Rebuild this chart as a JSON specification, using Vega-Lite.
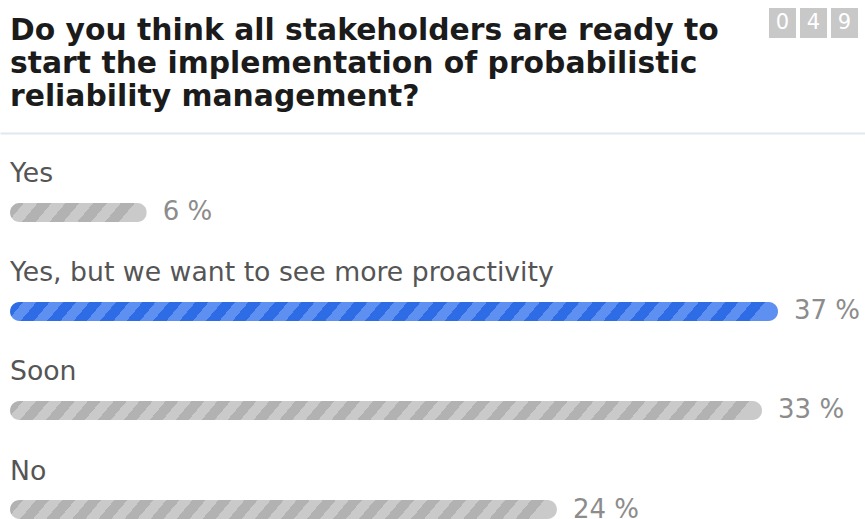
{
"$schema":"https://vega.github.io/schema/vega-lite/v6.json",
"background":"white",
"padding":{"left":0,"top":8,"right":0,"bottom":0},
"config":{"view":{"stroke":null},"font":"DejaVu Sans"},
"spacing":21,
"vconcat":[
{"spacing":0,"hconcat":[
 {"width":769,"height":99,
  "data":{"values":[{"line":1,"text":"Do you think all stakeholders are ready to"},{"line":2,"text":"start the implementation of probabilistic"},{"line":3,"text":"reliability management?"}]},
  "mark":{"type":"text","align":"left","baseline":"alphabetic","dx":10,"dy":15.5,"font":"DejaVu Sans","fontSize":29.8,"fontWeight":"bold","color":"#1b1b1b"},
  "encoding":{
   "x":{"datum":0,"type":"quantitative","scale":{"domain":[0,1]},"axis":null},
   "y":{"field":"line","type":"ordinal","scale":{"type":"band","paddingInner":0,"paddingOuter":0},"axis":null},
   "text":{"field":"text"}}},
 {"width":89,"height":30,
  "data":{"values":[{"pos":1,"digit":"0"},{"pos":2,"digit":"4"},{"pos":3,"digit":"9"}]},
  "layer":[
   {"mark":{"type":"bar","color":"#c8c8c8"},
    "encoding":{"x":{"field":"pos","type":"ordinal","scale":{"paddingInner":0.129,"paddingOuter":0},"axis":null}}},
   {"mark":{"type":"text","color":"white","fontSize":21,"font":"DejaVu Sans","baseline":"middle"},
    "encoding":{"x":{"field":"pos","type":"ordinal","axis":null},"text":{"field":"digit"}}}
  ]}
]},
{"width":865,"height":386,
 "data":{"values":[
  {"option":"Yes","pct":6,"label":"6 %"},
  {"option":"Yes, but we want to see more proactivity","pct":37,"label":"37 %"},
  {"option":"Soon","pct":33,"label":"33 %"},
  {"option":"No","pct":24,"label":"24 %"}]},
 "encoding":{"y":{"field":"option","type":"nominal","sort":null,"scale":{"type":"band","domain":["Yes","Yes, but we want to see more proactivity","Soon","No"],"paddingInner":0.8081,"paddingOuter":0.3535,"align":1},"axis":null}},
 "layer":[
  {"transform":[{"filter":{"field":"option","equal":"Yes"}}],
   "mark":{"type":"bar","cornerRadius":9.5,"fill":{"gradient":"linear","x1":0,"y1":0,"x2":1,"y2":0.117,"stops":[
    {"offset":0,"color":"#b2b2b2"},{"offset":0.1,"color":"#b2b2b2"},{"offset":0.1,"color":"#cacaca"},{"offset":0.2,"color":"#cacaca"},
    {"offset":0.2,"color":"#b2b2b2"},{"offset":0.3,"color":"#b2b2b2"},{"offset":0.3,"color":"#cacaca"},{"offset":0.4,"color":"#cacaca"},
    {"offset":0.4,"color":"#b2b2b2"},{"offset":0.5,"color":"#b2b2b2"},{"offset":0.5,"color":"#cacaca"},{"offset":0.6,"color":"#cacaca"},
    {"offset":0.6,"color":"#b2b2b2"},{"offset":0.7,"color":"#b2b2b2"},{"offset":0.7,"color":"#cacaca"},{"offset":0.8,"color":"#cacaca"},
    {"offset":0.8,"color":"#b2b2b2"},{"offset":0.9,"color":"#b2b2b2"},{"offset":0.9,"color":"#cacaca"},{"offset":1,"color":"#cacaca"}]}},
   "encoding":{"x":{"field":"pct","type":"quantitative","scale":{"domain":[-0.44,33.7,37.5,40],"range":[0,778,778,865],"zero":false,"nice":false},"axis":{"orient":"top","domainColor":"#e2e7ec","domainWidth":2,"ticks":false,"labels":false,"grid":false,"title":null}}}},
  {"transform":[{"filter":{"field":"option","equal":"Yes, but we want to see more proactivity"}}],
   "mark":{"type":"bar","cornerRadius":9.5,"fill":{"gradient":"linear","x1":0,"y1":0,"x2":1,"y2":0.0208,"stops":[
    {"offset":0,"color":"#2e6ce6"},
    {"offset":0.01724,"color":"#2e6ce6"},{"offset":0.01724,"color":"#5d90f0"},
    {"offset":0.03448,"color":"#5d90f0"},{"offset":0.03448,"color":"#2e6ce6"},
    {"offset":0.05172,"color":"#2e6ce6"},{"offset":0.05172,"color":"#5d90f0"},
    {"offset":0.06897,"color":"#5d90f0"},{"offset":0.06897,"color":"#2e6ce6"},
    {"offset":0.08621,"color":"#2e6ce6"},{"offset":0.08621,"color":"#5d90f0"},
    {"offset":0.10345,"color":"#5d90f0"},{"offset":0.10345,"color":"#2e6ce6"},
    {"offset":0.12069,"color":"#2e6ce6"},{"offset":0.12069,"color":"#5d90f0"},
    {"offset":0.13793,"color":"#5d90f0"},{"offset":0.13793,"color":"#2e6ce6"},
    {"offset":0.15517,"color":"#2e6ce6"},{"offset":0.15517,"color":"#5d90f0"},
    {"offset":0.17241,"color":"#5d90f0"},{"offset":0.17241,"color":"#2e6ce6"},
    {"offset":0.18966,"color":"#2e6ce6"},{"offset":0.18966,"color":"#5d90f0"},
    {"offset":0.2069,"color":"#5d90f0"},{"offset":0.2069,"color":"#2e6ce6"},
    {"offset":0.22414,"color":"#2e6ce6"},{"offset":0.22414,"color":"#5d90f0"},
    {"offset":0.24138,"color":"#5d90f0"},{"offset":0.24138,"color":"#2e6ce6"},
    {"offset":0.25862,"color":"#2e6ce6"},{"offset":0.25862,"color":"#5d90f0"},
    {"offset":0.27586,"color":"#5d90f0"},{"offset":0.27586,"color":"#2e6ce6"},
    {"offset":0.2931,"color":"#2e6ce6"},{"offset":0.2931,"color":"#5d90f0"},
    {"offset":0.31034,"color":"#5d90f0"},{"offset":0.31034,"color":"#2e6ce6"},
    {"offset":0.32759,"color":"#2e6ce6"},{"offset":0.32759,"color":"#5d90f0"},
    {"offset":0.34483,"color":"#5d90f0"},{"offset":0.34483,"color":"#2e6ce6"},
    {"offset":0.36207,"color":"#2e6ce6"},{"offset":0.36207,"color":"#5d90f0"},
    {"offset":0.37931,"color":"#5d90f0"},{"offset":0.37931,"color":"#2e6ce6"},
    {"offset":0.39655,"color":"#2e6ce6"},{"offset":0.39655,"color":"#5d90f0"},
    {"offset":0.41379,"color":"#5d90f0"},{"offset":0.41379,"color":"#2e6ce6"},
    {"offset":0.43103,"color":"#2e6ce6"},{"offset":0.43103,"color":"#5d90f0"},
    {"offset":0.44828,"color":"#5d90f0"},{"offset":0.44828,"color":"#2e6ce6"},
    {"offset":0.46552,"color":"#2e6ce6"},{"offset":0.46552,"color":"#5d90f0"},
    {"offset":0.48276,"color":"#5d90f0"},{"offset":0.48276,"color":"#2e6ce6"},
    {"offset":0.5,"color":"#2e6ce6"},{"offset":0.5,"color":"#5d90f0"},
    {"offset":0.51724,"color":"#5d90f0"},{"offset":0.51724,"color":"#2e6ce6"},
    {"offset":0.53448,"color":"#2e6ce6"},{"offset":0.53448,"color":"#5d90f0"},
    {"offset":0.55172,"color":"#5d90f0"},{"offset":0.55172,"color":"#2e6ce6"},
    {"offset":0.56897,"color":"#2e6ce6"},{"offset":0.56897,"color":"#5d90f0"},
    {"offset":0.58621,"color":"#5d90f0"},{"offset":0.58621,"color":"#2e6ce6"},
    {"offset":0.60345,"color":"#2e6ce6"},{"offset":0.60345,"color":"#5d90f0"},
    {"offset":0.62069,"color":"#5d90f0"},{"offset":0.62069,"color":"#2e6ce6"},
    {"offset":0.63793,"color":"#2e6ce6"},{"offset":0.63793,"color":"#5d90f0"},
    {"offset":0.65517,"color":"#5d90f0"},{"offset":0.65517,"color":"#2e6ce6"},
    {"offset":0.67241,"color":"#2e6ce6"},{"offset":0.67241,"color":"#5d90f0"},
    {"offset":0.68966,"color":"#5d90f0"},{"offset":0.68966,"color":"#2e6ce6"},
    {"offset":0.7069,"color":"#2e6ce6"},{"offset":0.7069,"color":"#5d90f0"},
    {"offset":0.72414,"color":"#5d90f0"},{"offset":0.72414,"color":"#2e6ce6"},
    {"offset":0.74138,"color":"#2e6ce6"},{"offset":0.74138,"color":"#5d90f0"},
    {"offset":0.75862,"color":"#5d90f0"},{"offset":0.75862,"color":"#2e6ce6"},
    {"offset":0.77586,"color":"#2e6ce6"},{"offset":0.77586,"color":"#5d90f0"},
    {"offset":0.7931,"color":"#5d90f0"},{"offset":0.7931,"color":"#2e6ce6"},
    {"offset":0.81034,"color":"#2e6ce6"},{"offset":0.81034,"color":"#5d90f0"},
    {"offset":0.82759,"color":"#5d90f0"},{"offset":0.82759,"color":"#2e6ce6"},
    {"offset":0.84483,"color":"#2e6ce6"},{"offset":0.84483,"color":"#5d90f0"},
    {"offset":0.86207,"color":"#5d90f0"},{"offset":0.86207,"color":"#2e6ce6"},
    {"offset":0.87931,"color":"#2e6ce6"},{"offset":0.87931,"color":"#5d90f0"},
    {"offset":0.89655,"color":"#5d90f0"},{"offset":0.89655,"color":"#2e6ce6"},
    {"offset":0.91379,"color":"#2e6ce6"},{"offset":0.91379,"color":"#5d90f0"},
    {"offset":0.93103,"color":"#5d90f0"},{"offset":0.93103,"color":"#2e6ce6"},
    {"offset":0.94828,"color":"#2e6ce6"},{"offset":0.94828,"color":"#5d90f0"},
    {"offset":0.96552,"color":"#5d90f0"},{"offset":0.96552,"color":"#2e6ce6"},
    {"offset":0.98276,"color":"#2e6ce6"},{"offset":0.98276,"color":"#5d90f0"},
    {"offset":1,"color":"#5d90f0"}]}},
   "encoding":{"x":{"field":"pct","type":"quantitative","axis":{"orient":"top","domainColor":"#e2e7ec","domainWidth":2,"ticks":false,"labels":false,"grid":false,"title":null}}}},
  {"transform":[{"filter":{"field":"option","equal":"Soon"}}],
   "mark":{"type":"bar","cornerRadius":9.5,"fill":{"gradient":"linear","x1":0,"y1":0,"x2":1,"y2":0.0213,"stops":[
    {"offset":0,"color":"#b2b2b2"},
    {"offset":0.01724,"color":"#b2b2b2"},{"offset":0.01724,"color":"#cacaca"},
    {"offset":0.03448,"color":"#cacaca"},{"offset":0.03448,"color":"#b2b2b2"},
    {"offset":0.05172,"color":"#b2b2b2"},{"offset":0.05172,"color":"#cacaca"},
    {"offset":0.06897,"color":"#cacaca"},{"offset":0.06897,"color":"#b2b2b2"},
    {"offset":0.08621,"color":"#b2b2b2"},{"offset":0.08621,"color":"#cacaca"},
    {"offset":0.10345,"color":"#cacaca"},{"offset":0.10345,"color":"#b2b2b2"},
    {"offset":0.12069,"color":"#b2b2b2"},{"offset":0.12069,"color":"#cacaca"},
    {"offset":0.13793,"color":"#cacaca"},{"offset":0.13793,"color":"#b2b2b2"},
    {"offset":0.15517,"color":"#b2b2b2"},{"offset":0.15517,"color":"#cacaca"},
    {"offset":0.17241,"color":"#cacaca"},{"offset":0.17241,"color":"#b2b2b2"},
    {"offset":0.18966,"color":"#b2b2b2"},{"offset":0.18966,"color":"#cacaca"},
    {"offset":0.2069,"color":"#cacaca"},{"offset":0.2069,"color":"#b2b2b2"},
    {"offset":0.22414,"color":"#b2b2b2"},{"offset":0.22414,"color":"#cacaca"},
    {"offset":0.24138,"color":"#cacaca"},{"offset":0.24138,"color":"#b2b2b2"},
    {"offset":0.25862,"color":"#b2b2b2"},{"offset":0.25862,"color":"#cacaca"},
    {"offset":0.27586,"color":"#cacaca"},{"offset":0.27586,"color":"#b2b2b2"},
    {"offset":0.2931,"color":"#b2b2b2"},{"offset":0.2931,"color":"#cacaca"},
    {"offset":0.31034,"color":"#cacaca"},{"offset":0.31034,"color":"#b2b2b2"},
    {"offset":0.32759,"color":"#b2b2b2"},{"offset":0.32759,"color":"#cacaca"},
    {"offset":0.34483,"color":"#cacaca"},{"offset":0.34483,"color":"#b2b2b2"},
    {"offset":0.36207,"color":"#b2b2b2"},{"offset":0.36207,"color":"#cacaca"},
    {"offset":0.37931,"color":"#cacaca"},{"offset":0.37931,"color":"#b2b2b2"},
    {"offset":0.39655,"color":"#b2b2b2"},{"offset":0.39655,"color":"#cacaca"},
    {"offset":0.41379,"color":"#cacaca"},{"offset":0.41379,"color":"#b2b2b2"},
    {"offset":0.43103,"color":"#b2b2b2"},{"offset":0.43103,"color":"#cacaca"},
    {"offset":0.44828,"color":"#cacaca"},{"offset":0.44828,"color":"#b2b2b2"},
    {"offset":0.46552,"color":"#b2b2b2"},{"offset":0.46552,"color":"#cacaca"},
    {"offset":0.48276,"color":"#cacaca"},{"offset":0.48276,"color":"#b2b2b2"},
    {"offset":0.5,"color":"#b2b2b2"},{"offset":0.5,"color":"#cacaca"},
    {"offset":0.51724,"color":"#cacaca"},{"offset":0.51724,"color":"#b2b2b2"},
    {"offset":0.53448,"color":"#b2b2b2"},{"offset":0.53448,"color":"#cacaca"},
    {"offset":0.55172,"color":"#cacaca"},{"offset":0.55172,"color":"#b2b2b2"},
    {"offset":0.56897,"color":"#b2b2b2"},{"offset":0.56897,"color":"#cacaca"},
    {"offset":0.58621,"color":"#cacaca"},{"offset":0.58621,"color":"#b2b2b2"},
    {"offset":0.60345,"color":"#b2b2b2"},{"offset":0.60345,"color":"#cacaca"},
    {"offset":0.62069,"color":"#cacaca"},{"offset":0.62069,"color":"#b2b2b2"},
    {"offset":0.63793,"color":"#b2b2b2"},{"offset":0.63793,"color":"#cacaca"},
    {"offset":0.65517,"color":"#cacaca"},{"offset":0.65517,"color":"#b2b2b2"},
    {"offset":0.67241,"color":"#b2b2b2"},{"offset":0.67241,"color":"#cacaca"},
    {"offset":0.68966,"color":"#cacaca"},{"offset":0.68966,"color":"#b2b2b2"},
    {"offset":0.7069,"color":"#b2b2b2"},{"offset":0.7069,"color":"#cacaca"},
    {"offset":0.72414,"color":"#cacaca"},{"offset":0.72414,"color":"#b2b2b2"},
    {"offset":0.74138,"color":"#b2b2b2"},{"offset":0.74138,"color":"#cacaca"},
    {"offset":0.75862,"color":"#cacaca"},{"offset":0.75862,"color":"#b2b2b2"},
    {"offset":0.77586,"color":"#b2b2b2"},{"offset":0.77586,"color":"#cacaca"},
    {"offset":0.7931,"color":"#cacaca"},{"offset":0.7931,"color":"#b2b2b2"},
    {"offset":0.81034,"color":"#b2b2b2"},{"offset":0.81034,"color":"#cacaca"},
    {"offset":0.82759,"color":"#cacaca"},{"offset":0.82759,"color":"#b2b2b2"},
    {"offset":0.84483,"color":"#b2b2b2"},{"offset":0.84483,"color":"#cacaca"},
    {"offset":0.86207,"color":"#cacaca"},{"offset":0.86207,"color":"#b2b2b2"},
    {"offset":0.87931,"color":"#b2b2b2"},{"offset":0.87931,"color":"#cacaca"},
    {"offset":0.89655,"color":"#cacaca"},{"offset":0.89655,"color":"#b2b2b2"},
    {"offset":0.91379,"color":"#b2b2b2"},{"offset":0.91379,"color":"#cacaca"},
    {"offset":0.93103,"color":"#cacaca"},{"offset":0.93103,"color":"#b2b2b2"},
    {"offset":0.94828,"color":"#b2b2b2"},{"offset":0.94828,"color":"#cacaca"},
    {"offset":0.96552,"color":"#cacaca"},{"offset":0.96552,"color":"#b2b2b2"},
    {"offset":0.98276,"color":"#b2b2b2"},{"offset":0.98276,"color":"#cacaca"},
    {"offset":1,"color":"#cacaca"}]}},
   "encoding":{"x":{"field":"pct","type":"quantitative","axis":{"orient":"top","domainColor":"#e2e7ec","domainWidth":2,"ticks":false,"labels":false,"grid":false,"title":null}}}},
  {"transform":[{"filter":{"field":"option","equal":"No"}}],
   "mark":{"type":"bar","cornerRadius":9.5,"fill":{"gradient":"linear","x1":0,"y1":0,"x2":1,"y2":0.0293,"stops":[
    {"offset":0,"color":"#b2b2b2"},
    {"offset":0.02381,"color":"#b2b2b2"},{"offset":0.02381,"color":"#cacaca"},
    {"offset":0.04762,"color":"#cacaca"},{"offset":0.04762,"color":"#b2b2b2"},
    {"offset":0.07143,"color":"#b2b2b2"},{"offset":0.07143,"color":"#cacaca"},
    {"offset":0.09524,"color":"#cacaca"},{"offset":0.09524,"color":"#b2b2b2"},
    {"offset":0.11905,"color":"#b2b2b2"},{"offset":0.11905,"color":"#cacaca"},
    {"offset":0.14286,"color":"#cacaca"},{"offset":0.14286,"color":"#b2b2b2"},
    {"offset":0.16667,"color":"#b2b2b2"},{"offset":0.16667,"color":"#cacaca"},
    {"offset":0.19048,"color":"#cacaca"},{"offset":0.19048,"color":"#b2b2b2"},
    {"offset":0.21429,"color":"#b2b2b2"},{"offset":0.21429,"color":"#cacaca"},
    {"offset":0.2381,"color":"#cacaca"},{"offset":0.2381,"color":"#b2b2b2"},
    {"offset":0.2619,"color":"#b2b2b2"},{"offset":0.2619,"color":"#cacaca"},
    {"offset":0.28571,"color":"#cacaca"},{"offset":0.28571,"color":"#b2b2b2"},
    {"offset":0.30952,"color":"#b2b2b2"},{"offset":0.30952,"color":"#cacaca"},
    {"offset":0.33333,"color":"#cacaca"},{"offset":0.33333,"color":"#b2b2b2"},
    {"offset":0.35714,"color":"#b2b2b2"},{"offset":0.35714,"color":"#cacaca"},
    {"offset":0.38095,"color":"#cacaca"},{"offset":0.38095,"color":"#b2b2b2"},
    {"offset":0.40476,"color":"#b2b2b2"},{"offset":0.40476,"color":"#cacaca"},
    {"offset":0.42857,"color":"#cacaca"},{"offset":0.42857,"color":"#b2b2b2"},
    {"offset":0.45238,"color":"#b2b2b2"},{"offset":0.45238,"color":"#cacaca"},
    {"offset":0.47619,"color":"#cacaca"},{"offset":0.47619,"color":"#b2b2b2"},
    {"offset":0.5,"color":"#b2b2b2"},{"offset":0.5,"color":"#cacaca"},
    {"offset":0.52381,"color":"#cacaca"},{"offset":0.52381,"color":"#b2b2b2"},
    {"offset":0.54762,"color":"#b2b2b2"},{"offset":0.54762,"color":"#cacaca"},
    {"offset":0.57143,"color":"#cacaca"},{"offset":0.57143,"color":"#b2b2b2"},
    {"offset":0.59524,"color":"#b2b2b2"},{"offset":0.59524,"color":"#cacaca"},
    {"offset":0.61905,"color":"#cacaca"},{"offset":0.61905,"color":"#b2b2b2"},
    {"offset":0.64286,"color":"#b2b2b2"},{"offset":0.64286,"color":"#cacaca"},
    {"offset":0.66667,"color":"#cacaca"},{"offset":0.66667,"color":"#b2b2b2"},
    {"offset":0.69048,"color":"#b2b2b2"},{"offset":0.69048,"color":"#cacaca"},
    {"offset":0.71429,"color":"#cacaca"},{"offset":0.71429,"color":"#b2b2b2"},
    {"offset":0.7381,"color":"#b2b2b2"},{"offset":0.7381,"color":"#cacaca"},
    {"offset":0.7619,"color":"#cacaca"},{"offset":0.7619,"color":"#b2b2b2"},
    {"offset":0.78571,"color":"#b2b2b2"},{"offset":0.78571,"color":"#cacaca"},
    {"offset":0.80952,"color":"#cacaca"},{"offset":0.80952,"color":"#b2b2b2"},
    {"offset":0.83333,"color":"#b2b2b2"},{"offset":0.83333,"color":"#cacaca"},
    {"offset":0.85714,"color":"#cacaca"},{"offset":0.85714,"color":"#b2b2b2"},
    {"offset":0.88095,"color":"#b2b2b2"},{"offset":0.88095,"color":"#cacaca"},
    {"offset":0.90476,"color":"#cacaca"},{"offset":0.90476,"color":"#b2b2b2"},
    {"offset":0.92857,"color":"#b2b2b2"},{"offset":0.92857,"color":"#cacaca"},
    {"offset":0.95238,"color":"#cacaca"},{"offset":0.95238,"color":"#b2b2b2"},
    {"offset":0.97619,"color":"#b2b2b2"},{"offset":0.97619,"color":"#cacaca"},
    {"offset":1,"color":"#cacaca"}]}},
   "encoding":{"x":{"field":"pct","type":"quantitative","axis":{"orient":"top","domainColor":"#e2e7ec","domainWidth":2,"ticks":false,"labels":false,"grid":false,"title":null}}}},
  {"mark":{"type":"text","align":"left","baseline":"middle","dy":-38,"fontSize":26.7,"font":"DejaVu Sans","color":"#555555"},
   "encoding":{"x":{"datum":0,"type":"quantitative","axis":{"orient":"top","domainColor":"#e2e7ec","domainWidth":2,"ticks":false,"labels":false,"grid":false,"title":null}},"text":{"field":"option"}}},
  {"mark":{"type":"text","align":"left","baseline":"middle","dx":16,"fontSize":26,"font":"DejaVu Sans","color":"#8c8c8c"},
   "encoding":{"x":{"field":"pct","type":"quantitative","axis":{"orient":"top","domainColor":"#e2e7ec","domainWidth":2,"ticks":false,"labels":false,"grid":false,"title":null}},"text":{"field":"label"}}}
 ]}
]
}
